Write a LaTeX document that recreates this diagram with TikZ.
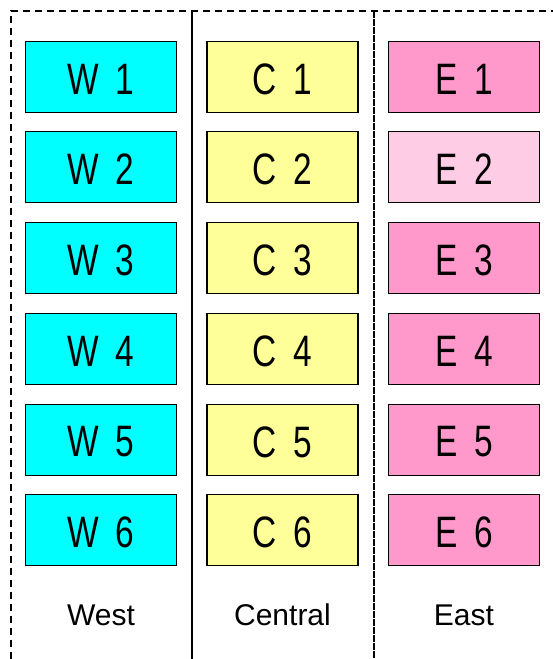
\documentclass[tikz,border=0pt]{standalone}
\usepackage{fontspec}
\setmainfont{Liberation Sans}
\newfontfamily\boxfont[FakeStretch=0.76,WordSpace=1.8]{Liberation Sans}
\definecolor{wcol}{HTML}{00FFFF}
\definecolor{ccol}{HTML}{FFFF99}
\definecolor{ecol}{HTML}{FF99CC}
\definecolor{elight}{HTML}{FFCCE5}
\begin{document}
\begin{tikzpicture}[x=1pt,y=-1pt,
  cell/.style={draw=black,line width=1.6pt,minimum width=151pt,minimum height=71pt,inner sep=0pt},
  celltext/.style={inner sep=0pt,font=\boxfont\fontsize{44}{44}\selectfont},
  collabel/.style={font=\fontsize{30}{30}\selectfont,inner sep=0pt},
  frame/.style={line width=1.8pt,dash pattern=on 7pt off 5pt},
  divsolid/.style={line width=1.8pt},
  divdash/.style={line width=1.8pt,dash pattern=on 7pt off 1pt}]
\useasboundingbox (0,0) rectangle (553,659);
% frame
\coordinate (tl) at (11,11);
\coordinate (tr) at (553,11);
\coordinate (bl) at (11,659);
\draw[frame] (bl) -- (tl) -- (tr);
\coordinate (d1t) at (192,11);
\coordinate (d1b) at (192,659);
\coordinate (d2t) at (374,11);
\coordinate (d2b) at (374,659);
\draw[divsolid] (d1t) -- (d1b);
\draw[divdash] (d2t) -- (d2b);
% cells
\foreach \i/\y in {1/77,2/167,3/258,4/349,5/440,6/530}{
  \node[cell,fill=wcol] (w\i) at (101,\y) {};
  \node[celltext] (wt\i) at ([yshift=-2pt]w\i.center) {W \i};
  \node[cell,fill=ccol] (c\i) at (282.5,\y) {};
  \node[celltext] (ct\i) at ([yshift=-2pt]c\i.center) {C \i};
}
\node[cell,fill=ecol] (e1) at (464,77) {};
\node[cell,fill=elight] (e2) at (464,167) {};
\node[cell,fill=ecol] (e3) at (464,258) {};
\node[cell,fill=ecol] (e4) at (464,349) {};
\node[cell,fill=ecol] (e5) at (464,440) {};
\node[cell,fill=ecol] (e6) at (464,530) {};
\foreach \i in {1,...,6}{
  \node[celltext] (et\i) at ([yshift=-2pt]e\i.center) {E \i};
}
% labels
\node[collabel] (west) at (101,615) {West};
\node[collabel] (central) at (282.5,615) {Central};
\node[collabel] (east) at (464,615) {East};
\end{tikzpicture}
\end{document}
